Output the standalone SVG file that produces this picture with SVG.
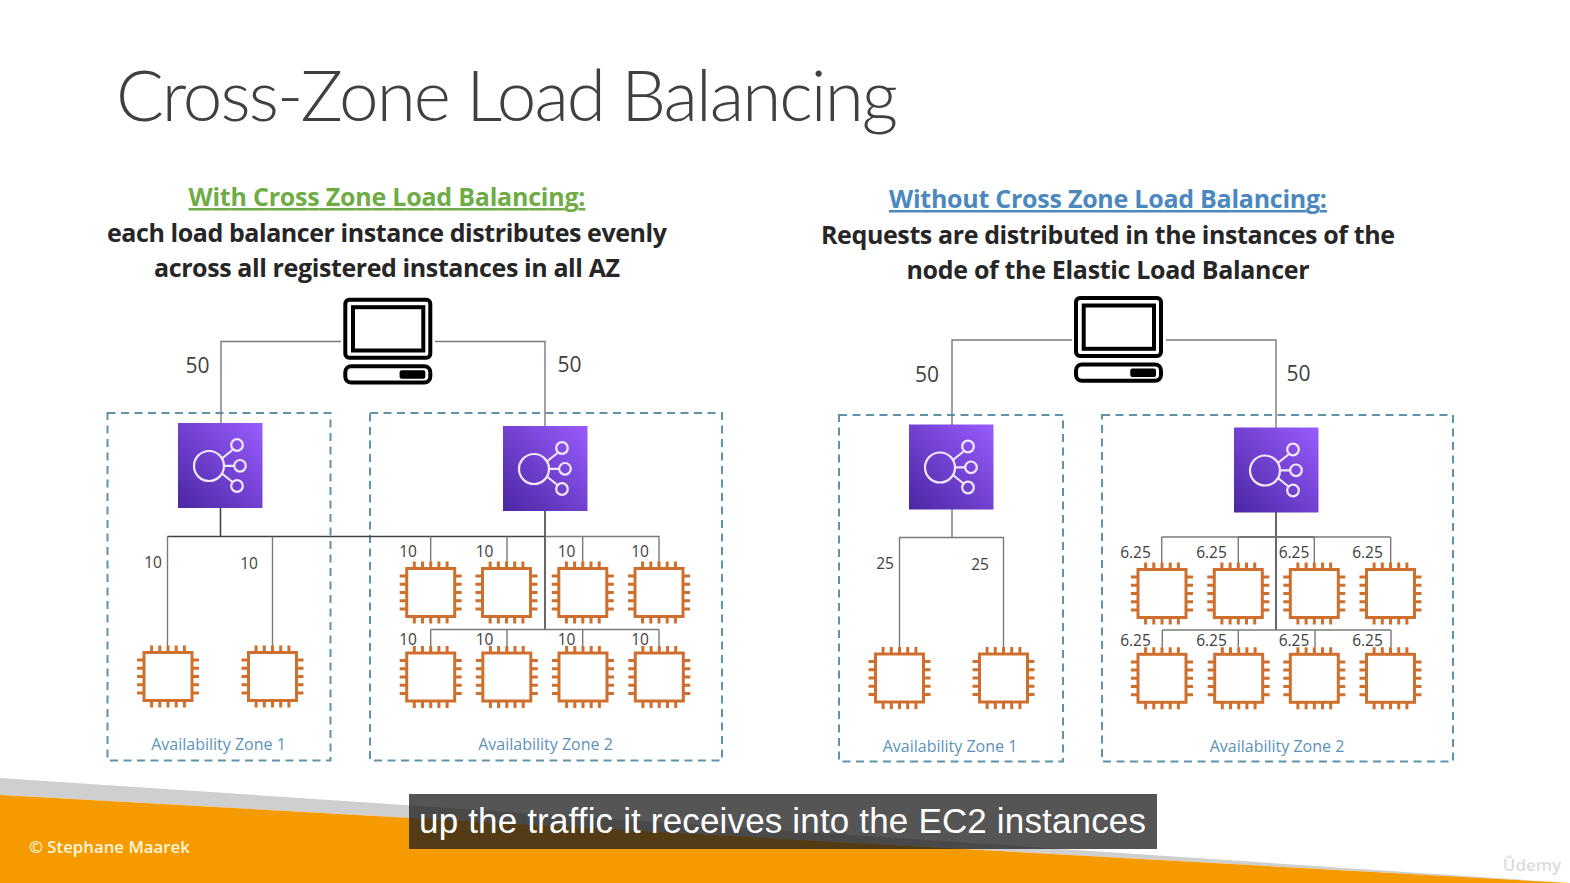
<svg xmlns="http://www.w3.org/2000/svg" width="1570" height="883" viewBox="0 0 1570 883">
<style>
.t{font-family:"Open Sans","Noto Sans",sans-serif}
.title{font-family:Lato,"Open Sans",sans-serif;font-weight:300;font-size:71px;fill:#404040}
.head{font-size:25px;font-weight:700;text-anchor:middle;fill:#262626}
.ln{font-family:"Open Sans",sans-serif;fill:#404040;text-anchor:middle}
.n50{font-size:21px}.n10{font-size:15.5px}
.az{font-family:"Open Sans",sans-serif;font-size:16px;fill:#5b92b8;text-anchor:middle}
.zone{fill:none;stroke:#5f93ac;stroke-width:2;stroke-dasharray:8 5.5}
.c{fill:none;stroke:#7a7a7a;stroke-width:1.4}
.cd{fill:none;stroke:#444;stroke-width:1.6}
</style>
<defs>
<linearGradient id="lb2" x1="0" y1="1" x2="1" y2="0"><stop offset="0" stop-color="#4a27a2"/><stop offset="1" stop-color="#9a5cff"/></linearGradient>
<g id="chip"><rect x="-24" y="-24" width="48" height="48" fill="#fff" stroke="#cf6f2e" stroke-width="3"/>
<path d="M-16.400-24v-7M-8.200-24v-7M0-24v-7M8.200-24v-7M16.400-24v-7M-16.400 24v7M-8.200 24v7M0 24v7M8.200 24v7M16.400 24v7M-24-16.400h-7M-24-8.200h-7M-24 0h-7M-24 8.200h-7M-24 16.400h-7M24-16.400h7M24-8.200h7M24 0h7M24 8.200h7M24 16.400h7" fill="none" stroke="#cf6f2e" stroke-width="3"/></g>
<g id="elb"><rect x="-42" y="-42.500" width="84.500" height="85" fill="url(#lb2)"/>
<g fill="none" stroke="#f1e9fb" stroke-width="2.200"><circle cx="-11" cy="0.500" r="15"/><circle cx="17" cy="-20.500" r="5.800"/><circle cx="20" cy="0.300" r="5.800"/><circle cx="17" cy="20.500" r="5.800"/><path d="M2.500-7.500 12.500-15.500M4 0.300H14M2.500 8.500 12.500 16.500"/></g></g>
<g id="pc" fill="none" stroke="#000"><rect x="2" y="2" width="85" height="58" rx="4" stroke-width="4"/><rect x="9.700" y="9.500" width="70.300" height="43.300" stroke-width="4"/><rect x="2" y="68.500" width="85" height="16.300" rx="6" stroke-width="4"/><rect x="56.300" y="72.500" width="25.700" height="8.500" rx="2" fill="#000" stroke="none"/></g>
</defs>
<rect width="1570" height="883" fill="#fff"/>
<path d="M0 778 L1570 883 L0 795Z" fill="#cfcfcf"/>
<path d="M0 795 L1570 883 H0Z" fill="#f59b00"/>

<text class="title" x="116" y="121" textLength="782">Cross-Zone Load Balancing</text>
<g class="t">
<text class="head" x="387" y="206" style="fill:#6fac46;text-decoration:underline" textLength="397">With Cross Zone Load Balancing:</text>
<text class="head" x="387" y="241.500" textLength="560">each load balancer instance distributes evenly</text>
<text class="head" x="387" y="276.500" textLength="466">across all registered instances in all AZ</text>
<text class="head" x="1108" y="208" style="fill:#4a88bf;text-decoration:underline" textLength="438">Without Cross Zone Load Balancing:</text>
<text class="head" x="1108" y="243.500" textLength="574">Requests are distributed in the instances of the</text>
<text class="head" x="1108" y="278.500" textLength="403">node of the Elastic Load Balancer</text>
</g>

<g id="zones">
<rect class="zone" x="107.500" y="413" width="223" height="347.500"/>
<rect class="zone" x="370" y="413" width="352" height="347.500"/>
<rect class="zone" x="839" y="415" width="224" height="346.500"/>
<rect class="zone" x="1102" y="415" width="351" height="346.500"/>
</g>

<g id="connectors">
<path class="c" d="M341 341.500H221V423M435 341.500H545V426"/>
<path class="c" d="M1072 340H952V425M1166 340H1276V428"/>
<path class="cd" d="M220.500 508V536.500M167.500 536.500H545M545 511V629.500"/>
<path class="c" d="M167.500 536.500V646M272.500 536.500V646M430.700 536.500V562M507 536.500V562M582.700 536.500V562M545 536.500H659V562"/>
<path class="c" d="M430.700 629.500H659M430.700 629.500V646M507 629.500V646M582.700 629.500V646M659 629.500V646"/>
<path class="c" d="M952 509V537.500H899.500V647M952 537.500H1003.500V647"/>
<path class="cd" d="M1276 512V630M1238.300 537H1314.300"/>
<path class="c" d="M1161.700 537H1390.700M1161.700 537V563M1238.300 537V563M1314.300 537V563M1390.700 537V563"/>
<path class="c" d="M1162.300 630H1391M1162.300 630V647M1238.300 630V647M1315 630V647M1391 630V647"/>
</g>

<g id="client-left"><use href="#pc" x="343.300" y="297.700"/></g>
<g id="client-right"><use href="#pc" x="1074" y="296"/></g>
<g id="elb-1"><use href="#elb" x="220" y="465.500"/></g>
<g id="elb-2"><use href="#elb" x="545" y="468.500"/></g>
<g id="elb-3"><use href="#elb" x="951" y="467"/></g>
<g id="elb-4"><use href="#elb" x="1276" y="470"/></g>

<g id="chips-left">
<g id="c1"><use href="#chip" x="168" y="676.500"/></g><g id="c2"><use href="#chip" x="272.500" y="676.500"/></g>
<g id="c3"><use href="#chip" x="430.700" y="592.500"/></g><g id="c4"><use href="#chip" x="506.500" y="592.500"/></g><g id="c5"><use href="#chip" x="582.800" y="592.500"/></g><g id="c6"><use href="#chip" x="659" y="592.500"/></g>
<g id="c7"><use href="#chip" x="430.700" y="677"/></g><g id="c8"><use href="#chip" x="506.800" y="677"/></g><g id="c9"><use href="#chip" x="583" y="677"/></g><g id="c10"><use href="#chip" x="659.300" y="677"/></g>
</g>
<g id="chips-right">
<g id="c11"><use href="#chip" x="899.500" y="678"/></g><g id="c12"><use href="#chip" x="1003.500" y="678"/></g>
<g id="c13"><use href="#chip" x="1162" y="593.500"/></g><g id="c14"><use href="#chip" x="1238.300" y="593.500"/></g><g id="c15"><use href="#chip" x="1314.300" y="593.500"/></g><g id="c16"><use href="#chip" x="1390.500" y="593.500"/></g>
<g id="c17"><use href="#chip" x="1162" y="678.300"/></g><g id="c18"><use href="#chip" x="1238.700" y="678.300"/></g><g id="c19"><use href="#chip" x="1314.300" y="678.300"/></g><g id="c20"><use href="#chip" x="1390.500" y="678.300"/></g>
</g>

<g id="labels">
<text class="ln n50" x="197.500" y="373">50</text><text class="ln n50" x="569.500" y="371.500">50</text>
<text class="ln n50" x="927" y="382">50</text><text class="ln n50" x="1298.500" y="380.500">50</text>
<g class="ln n10">
<text x="153" y="567.500">10</text><text x="249" y="568.500">10</text>
<text x="408" y="556.500">10</text><text x="484.500" y="556.500">10</text><text x="566.500" y="556.500">10</text><text x="640" y="556.500">10</text>
<text x="408" y="644.500">10</text><text x="484.500" y="644.500">10</text><text x="566.500" y="644.500">10</text><text x="640" y="644.500">10</text>
<text x="885" y="568.500">25</text><text x="980" y="569.500">25</text>
<text x="1135.500" y="557.500">6.25</text><text x="1211.500" y="557.500">6.25</text><text x="1294" y="557.500">6.25</text><text x="1367.500" y="557.500">6.25</text>
<text x="1135.500" y="645.500">6.25</text><text x="1211.500" y="645.500">6.25</text><text x="1294" y="645.500">6.25</text><text x="1367.500" y="645.500">6.25</text>
</g>
<text class="az" x="218.500" y="750">Availability Zone 1</text><text class="az" x="545.500" y="750">Availability Zone 2</text>
<text class="az" x="950" y="752">Availability Zone 1</text><text class="az" x="1277" y="752">Availability Zone 2</text>
</g>

<text x="29" y="852.500" font-family="Open Sans,sans-serif" font-size="16.800" font-weight="600" fill="#fff5dc">© Stephane Maarek</text>
<rect x="409" y="794" width="748" height="55" fill="#1c1c1c" fill-opacity="0.75"/>
<text x="419" y="833" font-family="Liberation Sans,sans-serif" font-size="35" fill="#fff" textLength="727">up the traffic it receives into the EC2 instances</text>
<text x="1532" y="871" font-family="Open Sans,sans-serif" font-size="17" font-weight="600" fill="#dcdcdc" text-anchor="middle">Ûdemy</text>
</svg>
